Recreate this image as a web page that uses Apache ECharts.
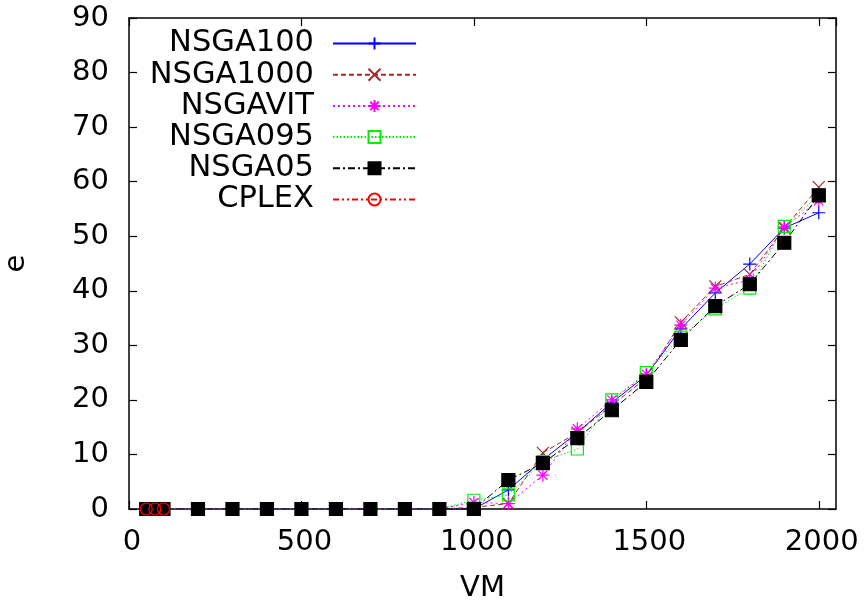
<!DOCTYPE html>
<html>
<head>
<meta charset="utf-8">
<script src="https://cdn.jsdelivr.net/npm/echarts@6/dist/echarts.min.js"></script>
<style>
  html, body { margin: 0; padding: 0; background: #fff; }
  #chart { width: 867px; height: 607px; }
</style>
</head>
<body>
<div id="chart"></div>
<script>
// Number of VMs on the x axis
const vmCounts = [50, 75, 100, 200, 300, 400, 500, 600, 700, 800, 900,
                  1000, 1100, 1200, 1300, 1400, 1500, 1600, 1700, 1800, 1900, 2000];

// e values per method
const nsga100  = [0, 0, 0, 0, 0, 0, 0, 0, 0, 0, 0,
                  0, 3.5, 9.0, 14.0, 19.5, 24.5, 33.0, 39.6, 44.9, 51.5, 54.3];
const nsga1000 = [0, 0, 0, 0, 0, 0, 0, 0, 0, 0, 0,
                  0.3, 1.0, 10.3, 14.0, 19.0, 24.0, 34.2, 40.8, 43.0, 51.5, 59.0];
const nsgaVit  = [0, 0, 0, 0, 0, 0, 0, 0, 0, 0, 0,
                  1.2, 1.0, 6.2, 14.7, 20.0, 24.7, 33.7, 40.5, 42.0, 51.7, 56.5];
const nsga095  = [0, 0, 0, 0, 0, 0, 0, 0, 0, 0, 0,
                  1.6, 2.6, 8.7, 11.0, 20.0, 25.0, 31.5, 36.7, 40.5, 51.8, 57.5];
const nsga05   = [0, 0, 0, 0, 0, 0, 0, 0, 0, 0, 0,
                  0, 5.3, 8.4, 13.0, 18.1, 23.3, 31.0, 37.2, 41.2, 48.8, 57.5];
const cplexVm  = [50, 75, 100];
const cplex    = [0, 0, 0];

const xTicks = [0, 500, 1000, 1500, 2000];
const yTicks = [0, 10, 20, 30, 40, 50, 60, 70, 80, 90];

const FONT = 'DejaVu Sans';
const FS = 29;
const pairs = (xs, ys) => xs.map((x, i) => [x, ys[i]]);

// stroke-only marker shapes
const PLUS = 'path://M0,5L10,5M5,0L5,10';
const CROSS = 'path://M0,0L10,10M10,0L0,10';
const STAR = 'path://M0,5L10,5M5,0L5,10M1.5,1.5L8.5,8.5M8.5,1.5L1.5,8.5';
const SQUARE = 'path://M0,0L10,0L10,10L0,10Z';
const RING = 'path://M10,5A5,5,0,1,1,0,5A5,5,0,1,1,10,5Z';

function lineSeries(name, data, color, dash, symbol, size, filled) {
  return {
    name, type: 'line', data,
    symbol, symbolSize: size,
    showAllSymbol: true,
    animation: false,
    lineStyle: { color, width: 1, type: dash },
    itemStyle: {
      color: filled ? color : 'rgba(0,0,0,0)',
      borderColor: color,
      borderWidth: 1.2
    },
    emphasis: { disabled: true }
  };
}

const chart = echarts.init(document.getElementById('chart'), null, { renderer: 'canvas' });

// frame on all four sides, ticks pointing into the plot
function axisCommon() {
  return {
    axisLine: { show: true, onZero: false, lineStyle: { color: '#000', width: 1.5 } },
    axisTick: { show: true, inside: true, length: 8, lineStyle: { color: '#000', width: 1.2 } },
    splitLine: { show: false }
  };
}

chart.setOption({
  backgroundColor: '#fff',
  animation: false,
  grid: { left: 129, top: 18, width: 707, height: 491, containLabel: false, outerBoundsMode: 'none' },
  xAxis: [
    Object.assign({
      type: 'value', min: 0, max: 2050, interval: 500, position: 'bottom',
      name: 'VM', nameLocation: 'middle', nameGap: 65,
      nameTextStyle: { fontFamily: FONT, fontSize: FS, color: '#000' },
      axisLabel: {
        fontFamily: FONT, fontSize: FS, color: '#000', margin: 19,
        padding: [0, 0, 0, 6],
        showMaxLabel: false,
        formatter: v => (xTicks.includes(v) ? String(v) : '')
      }
    }, axisCommon()),
    Object.assign({
      type: 'value', min: 0, max: 2050, interval: 500, position: 'top',
      axisLabel: { show: false }
    }, axisCommon())
  ],
  yAxis: [
    Object.assign({
      type: 'value', min: 0, max: 90, interval: 10, position: 'left',
      name: 'e', nameLocation: 'middle', nameGap: 98, nameRotate: 90,
      nameTextStyle: { fontFamily: FONT, fontSize: FS, color: '#000' },
      axisLabel: {
        fontFamily: FONT, fontSize: FS, color: '#000', margin: 20,
        formatter: v => (yTicks.includes(v) ? String(v) : '')
      }
    }, axisCommon()),
    Object.assign({
      type: 'value', min: 0, max: 90, interval: 10, position: 'right',
      axisLabel: { show: false }
    }, axisCommon())
  ],
  legend: {
    orient: 'vertical',
    right: 450, top: 28,
    padding: 0,
    align: 'right',
    itemWidth: 83, itemHeight: 15, itemGap: 0.2,
    selectedMode: false,
    textStyle: { fontFamily: FONT, fontSize: 30.5, color: '#000', lineHeight: 29, padding: [0, 14, 0, 0] },
    data: ['NSGA100', 'NSGA1000', 'NSGAVIT', 'NSGA095', 'NSGA05', 'CPLEX']
  },
  series: [
    lineSeries('NSGA100', pairs(vmCounts, nsga100), '#0000ff', 'solid', PLUS, 13, false),
    lineSeries('NSGA1000', pairs(vmCounts, nsga1000), '#a52a2a', [5, 3], CROSS, 12, false),
    lineSeries('NSGAVIT', pairs(vmCounts, nsgaVit), '#ff00ff', [2, 3], STAR, 13, false),
    lineSeries('NSGA095', pairs(vmCounts, nsga095), '#00ee00', [1.5, 2], SQUARE, 12, false),
    lineSeries('NSGA05', pairs(vmCounts, nsga05), '#000000', [7, 3, 2, 3], 'rect', 13, true),
    lineSeries('CPLEX', pairs(cplexVm, cplex), '#ff0000', [6, 3, 2, 3, 2, 3], RING, 12, false)
  ]
});
</script>
</body>
</html>
